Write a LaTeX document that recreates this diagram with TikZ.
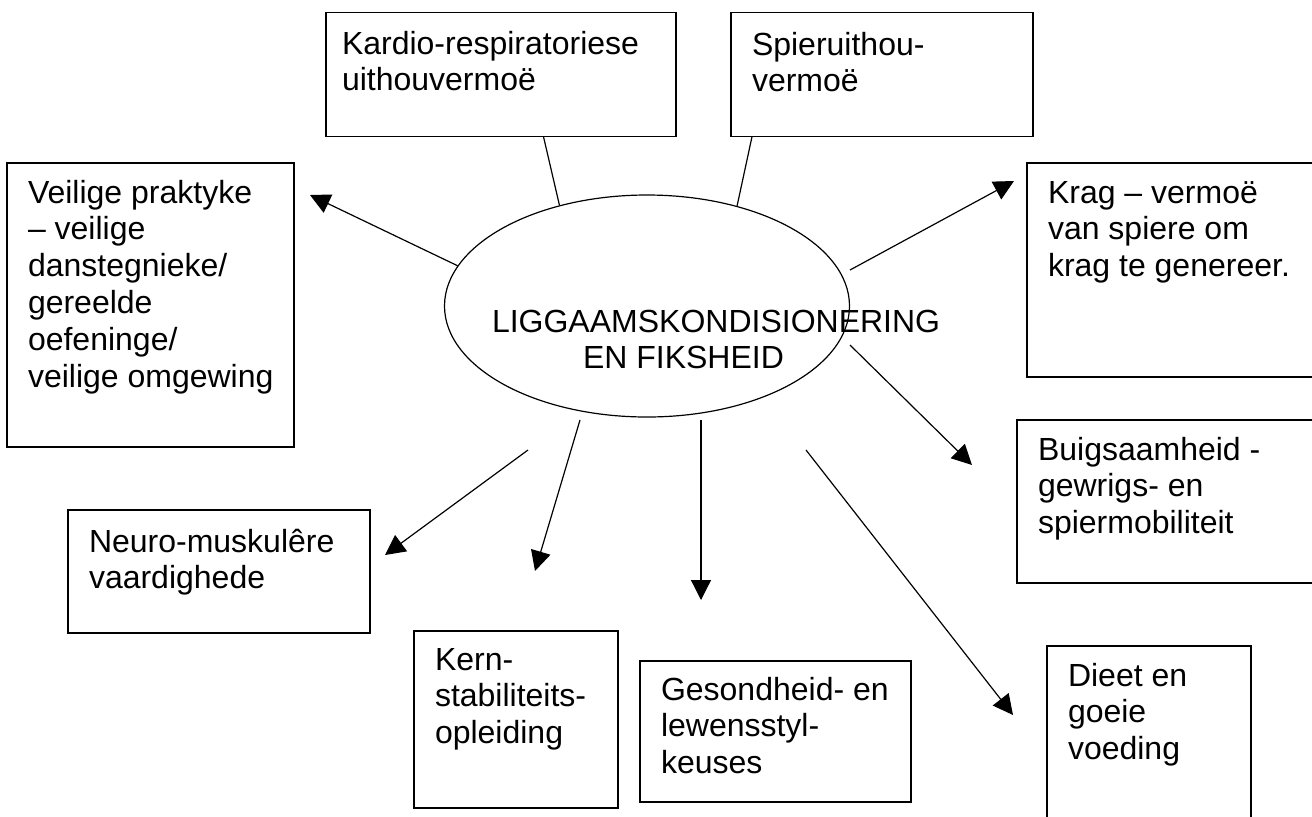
\documentclass[tikz,border=0pt]{standalone}
\usepackage{fontspec}
\setmainfont{Liberation Sans}
\usetikzlibrary{shapes.geometric,arrows.meta}
\newcommand\btxt[1]{\parbox[t]{300pt}{\raggedright\fontsize{16}{18.4}\selectfont #1}}
\tikzset{
  boxline/.style={draw=black, line width=0.75pt},
  lbl/.style={anchor=base west, inner sep=0pt, outer sep=0pt},
  conn/.style={draw=black, line width=0.6pt},
  arr/.style={conn, -{Triangle[length=10pt,width=10pt]}},
  hub/.style={ellipse, draw=black, line width=0.6pt, minimum width=202.5pt, minimum height=111pt, inner sep=0pt}
}
\begin{document}
\begin{tikzpicture}[x=0.5pt,y=-0.5pt]
\useasboundingbox (0,0) rectangle (1312,816);
% boxes
\draw[boxline] (326,12.7) rectangle (676,136.7) node[midway, inner sep=0pt] (kar) {};
\draw[boxline] (731,12.7) rectangle (1033,136.7) node[midway, inner sep=0pt] (spi) {};
\draw[boxline] (7,163) rectangle (294,447) node[midway, inner sep=0pt] (vei) {};
\draw[boxline] (1027,163) rectangle (1330,377) node[midway, inner sep=0pt] (kra) {};
\draw[boxline] (1017,420) rectangle (1330,583) node[midway, inner sep=0pt] (bui) {};
\draw[boxline] (68,510) rectangle (370,633) node[midway, inner sep=0pt] (neu) {};
\draw[boxline] (414,631) rectangle (618,808) node[midway, inner sep=0pt] (ker) {};
\draw[boxline] (640,661) rectangle (911,802) node[midway, inner sep=0pt] (ges) {};
\draw[boxline] (1047,646) rectangle (1251,840) node[midway, inner sep=0pt] (die) {};
% texts
\node[lbl] (tkar) at (342,54) {\btxt{Kardio-respiratoriese\\uithouvermoë}};
\node[lbl] (tspi) at (752,55) {\btxt{Spieruithou-\\vermoë}};
\node[lbl] (tvei) at (28,203) {\btxt{Veilige praktyke\\– veilige\\danstegnieke/\\gereelde\\oefeninge/\\veilige omgewing}};
\node[lbl] (tkra) at (1048,203) {\btxt{Krag – vermoë\\van spiere om\\krag te genereer.}};
\node[lbl] (tbui) at (1038,460) {\btxt{Buigsaamheid -\\gewrigs- en\\spiermobiliteit}};
\node[lbl] (tneu) at (89,552) {\btxt{Neuro-muskulêre\\vaardighede}};
\node[lbl] (tker) at (435,670) {\btxt{Kern-\\stabiliteits-\\opleiding}};
\node[lbl] (tges) at (661,700) {\btxt{Gesondheid- en\\lewensstyl-\\keuses}};
\node[lbl] (tdie) at (1068,686) {\btxt{Dieet en\\goeie\\voeding}};
% hub
\node[hub] (c) at (647,306) {};
\node[lbl] (c1) at (492,332) {\fontsize{16}{18.4}\selectfont LIGGAAMSKONDISIONERING};
\node[lbl] (c2) at (583,368) {\fontsize{16}{18.4}\selectfont EN FIKSHEID};
% coordinates
\coordinate (kar0) at (543.5,136.7);
\coordinate (spi0) at (752,136.7);
\coordinate (vei1) at (310,195);
\coordinate (kra0) at (850,270);
\coordinate (kra1) at (1014,181);
\coordinate (bui0) at (850,345);
\coordinate (bui1) at (972,465);
\coordinate (die0) at (806,450);
\coordinate (die1) at (1013,715);
\coordinate (ges0) at (701,420);
\coordinate (ges1) at (701,600);
\coordinate (ker0) at (580,420);
\coordinate (ker1) at (535,571);
\coordinate (neu0) at (528,450);
\coordinate (neu1) at (385,555);
% connectors
\draw[conn] (kar0) -- (c.131.8);
\draw[conn] (spi0) -- (c.48);
\draw[arr] (c.168.5) -- (vei1);
\draw[arr] (kra0) -- (kra1);
\draw[arr] (bui0) -- (bui1);
\draw[arr] (die0) -- (die1);
\draw[arr] (ges0) -- (ges1);
\draw[arr] (ker0) -- (ker1);
\draw[arr] (neu0) -- (neu1);
\end{tikzpicture}
\end{document}
